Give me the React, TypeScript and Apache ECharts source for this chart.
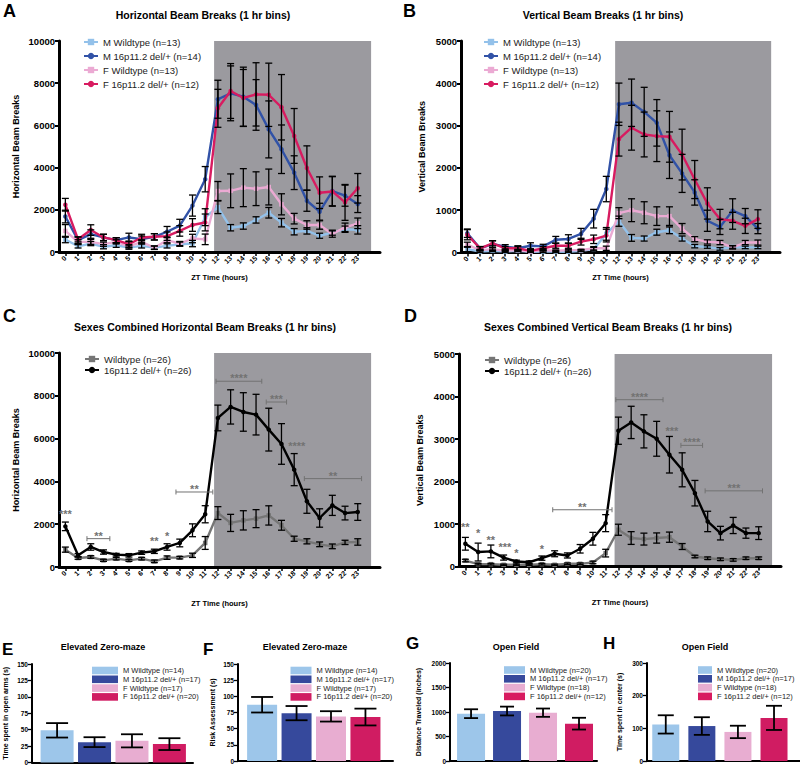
import React, { useEffect, useRef } from "react";
import * as echarts from "echarts";

const FONT = '"Liberation Sans", Arial, Helvetica, sans-serif';

// ---------- data ----------
const hours = [0, 1, 2, 3, 4, 5, 6, 7, 8, 9, 10, 11, 12, 13, 14, 15, 16, 17, 18, 19, 20, 21, 22, 23];
const DARK_START = 11.7;
const DARK_END = 24.05;

const lineNames4 = ["M Wildtype (n=13)", "M 16p11.2 del/+ (n=14)", "F Wildtype (n=13)", "F 16p11.2 del/+ (n=12)"];
const lineNames2 = ["Wildtype (n=26)", "16p11.2 del/+ (n=26)"];

// Panel A: horizontal beam breaks
const A_mWT = [590, 270, 400, 250, 320, 210, 290, 210, 290, 370, 400, 1650, 2120, 1150, 1230, 1520, 1860, 1390, 960, 1000, 770, 915, 1080, 1050];
const A_mWT_err = [150, 80, 100, 100, 100, 80, 100, 80, 100, 100, 150, 400, 300, 150, 150, 150, 250, 200, 150, 150, 120, 120, 150, 200];
const A_mDel = [1680, 560, 850, 690, 560, 690, 610, 720, 960, 1250, 2200, 3450, 7240, 7520, 7360, 6970, 5810, 4870, 3760, 2430, 1910, 2890, 2670, 2270];
const A_mDel_err = [300, 150, 200, 150, 120, 200, 150, 150, 250, 300, 500, 600, 900, 1300, 1400, 1200, 1350, 1150, 800, 500, 400, 700, 500, 400];
const A_fWT = [1000, 480, 480, 370, 480, 270, 480, 200, 560, 400, 640, 600, 2890, 2900, 3050, 3000, 3080, 2260, 1580, 1280, 1280, 850, 1170, 1360];
const A_fWT_err = [300, 100, 120, 100, 100, 80, 100, 80, 120, 100, 200, 250, 450, 800, 900, 800, 850, 500, 250, 200, 200, 150, 200, 250];
const A_fDel = [2240, 600, 1040, 690, 560, 370, 690, 720, 750, 1000, 1280, 1400, 6810, 7630, 7300, 7470, 7450, 6860, 5500, 3980, 2810, 2870, 2350, 3020];
const A_fDel_err = [300, 120, 250, 150, 120, 150, 150, 150, 200, 250, 300, 400, 900, 1300, 1350, 1500, 1500, 1550, 1300, 1050, 750, 700, 850, 700];

// Panel B: vertical beam breaks
const B_mWT = [80, 24, 40, 24, 40, 16, 24, 24, 16, 40, 80, 440, 740, 345, 330, 480, 525, 330, 150, 130, 85, 130, 120, 120];
const B_mWT_err = [60, 20, 20, 20, 20, 15, 20, 20, 15, 20, 40, 150, 120, 80, 60, 70, 80, 60, 40, 30, 30, 30, 30, 30];
const B_mDel = [456, 100, 200, 136, 100, 160, 144, 300, 320, 440, 800, 1500, 3505, 3540, 3325, 3065, 2300, 1870, 1420, 750, 605, 990, 860, 565];
const B_mDel_err = [100, 40, 80, 50, 60, 70, 50, 80, 100, 130, 220, 300, 500, 560, 580, 550, 550, 450, 300, 250, 180, 280, 180, 120];
const B_fWT = [184, 56, 80, 40, 56, 24, 56, 40, 56, 56, 100, 100, 930, 1000, 940, 860, 860, 565, 315, 250, 235, 120, 235, 235];
const B_fWT_err = [60, 20, 30, 20, 20, 15, 20, 20, 20, 20, 40, 50, 130, 270, 260, 220, 220, 120, 60, 50, 50, 40, 50, 60];
const B_fDel = [420, 100, 216, 100, 100, 40, 100, 160, 160, 256, 312, 400, 2680, 2950, 2790, 2750, 2735, 2315, 1725, 1160, 790, 750, 630, 790];
const B_fDel_err = [120, 40, 60, 40, 40, 30, 40, 60, 60, 80, 100, 150, 400, 530, 530, 600, 600, 600, 450, 370, 230, 200, 180, 220];

// Panel C: sexes combined horizontal
const C_wt = [811, 420, 468, 312, 390, 312, 390, 265, 437, 437, 546, 1123, 2520, 2060, 2180, 2260, 2410, 1950, 1320, 1200, 1060, 965, 1150, 1170];
const C_wt_err = [120, 60, 60, 50, 60, 50, 60, 60, 80, 60, 100, 300, 300, 400, 450, 420, 450, 230, 120, 120, 110, 110, 100, 150];
const C_del = [1900, 546, 936, 700, 577, 546, 670, 733, 936, 1123, 1716, 2465, 6965, 7480, 7245, 7120, 6420, 5750, 4550, 3070, 2290, 2880, 2520, 2570];
const C_del_err = [200, 80, 150, 100, 60, 80, 80, 100, 150, 180, 300, 400, 600, 800, 900, 950, 1000, 950, 750, 560, 430, 470, 320, 390];

// Panel D: sexes combined vertical
const D_wt = [140, 55, 55, 40, 40, 40, 55, 40, 63, 63, 95, 315, 865, 670, 645, 670, 690, 470, 235, 195, 170, 155, 195, 195];
const D_wt_err = [30, 20, 20, 15, 15, 15, 20, 15, 20, 20, 30, 90, 130, 150, 140, 120, 120, 70, 30, 30, 30, 30, 30, 30];
const D_del = [535, 340, 355, 210, 118, 100, 197, 300, 260, 417, 653, 1020, 3195, 3390, 3180, 3005, 2630, 2275, 1725, 1060, 785, 965, 785, 785];
const D_del_err = [150, 210, 150, 60, 30, 30, 50, 70, 60, 100, 150, 200, 320, 380, 390, 410, 430, 400, 300, 240, 160, 190, 120, 150];

// significance annotations (x from, x to, y value, label)
const C_sig = [
  { x1: 0, x2: 0, y: 2570, t: "***" },
  { x1: 1.7, x2: 3.5, y: 1325, t: "**" },
  { x1: 7, x2: 7, y: 1325, t: "**" },
  { x1: 8, x2: 8, y: 1560, t: "*" },
  { x1: 8.7, x2: 11.6, y: 3505, t: "**" },
  { x1: 11.85, x2: 15.45, y: 8680, t: "****" },
  { x1: 15.8, x2: 17.4, y: 7710, t: "***" },
  { x1: 18.2, x2: 18.2, y: 5730, t: "****" },
  { x1: 18.8, x2: 23.3, y: 4130, t: "**" },
];
const D_sig = [
  { x1: 0, x2: 0, y: 980, t: "**" },
  { x1: 1, x2: 1, y: 825, t: "*" },
  { x1: 2, x2: 2, y: 667, t: "**" },
  { x1: 3.1, x2: 3.1, y: 510, t: "***" },
  { x1: 4, x2: 4, y: 353, t: "*" },
  { x1: 6, x2: 6, y: 455, t: "*" },
  { x1: 6.85, x2: 11.5, y: 1335, t: "**" },
  { x1: 11.8, x2: 15.5, y: 3925, t: "****" },
  { x1: 16.2, x2: 16.2, y: 3235, t: "***" },
  { x1: 16.9, x2: 18.6, y: 2850, t: "****" },
  { x1: 18.8, x2: 23.3, y: 1780, t: "***" },
];

// Bar panels
const EF_names = ["M Wildtype (n=14)", "M 16p11.2 del/+ (n=17)", "F Wildtype (n=17)", "F 16p11.2 del/+ (n=20)"];
const GH_names = ["M Wildtype (n=20)", "M 16p11.2 del/+ (n=17)", "F Wildtype (n=18)", "F 16p11.2 del/+ (n=12)"];
const E_vals = [49, 31, 33, 28];
const E_err = [11, 7.5, 10, 9];
const F_vals = [87, 74, 69, 68];
const F_err = [12, 11, 8, 13];
const G_vals = [966, 1020, 986, 762];
const G_err = [90, 90, 85, 120];
const H_vals = [112, 107, 89, 132];
const H_err = [28, 27, 19, 37];

// ---------- styles ----------
const LC = ["#93c1ea", "#3152a7", "#ebaad3", "#d81b60"];
const BC = ["#9dc6ea", "#36499c", "#e8add1", "#d01c62"];
const SHADE = "#9b9a9f";
const SIG = "#727272";

const errRender = (cap: number, lw: number) => (params: any, api: any) => {
  const x = api.value(0);
  const y = api.value(1);
  const e = api.value(2);
  const top = api.coord([x, y + e]);
  const bot = api.coord([x, Math.max(0, y - e)]);
  const st = { stroke: "#000", lineWidth: lw };
  return {
    type: "group",
    children: [
      { type: "line", shape: { x1: top[0], y1: top[1], x2: bot[0], y2: bot[1] }, style: st },
      { type: "line", shape: { x1: top[0] - cap, y1: top[1], x2: top[0] + cap, y2: top[1] }, style: st },
      { type: "line", shape: { x1: bot[0] - cap, y1: bot[1], x2: bot[0] + cap, y2: bot[1] }, style: st },
    ],
  };
};

function shadeSeries(gi: number, ymax: number) {
  return {
    type: "custom",
    xAxisIndex: gi,
    yAxisIndex: gi,
    silent: true,
    z: 0,
    data: [[DARK_START, DARK_END, ymax]],
    encode: { x: [0, 1], y: [2] },
    renderItem: (p: any, api: any) => {
      const a = api.coord([api.value(0), api.value(2)]);
      const b = api.coord([api.value(1), 0]);
      return { type: "rect", shape: { x: a[0], y: a[1], width: b[0] - a[0], height: b[1] - a[1] }, style: { fill: SHADE } };
    },
  };
}

function lineSeries(name: string, vals: number[], color: string, symbol: string, gi: number, z: number) {
  return {
    type: "line",
    name,
    xAxisIndex: gi,
    yAxisIndex: gi,
    data: hours.map((h, i) => [h, vals[i]]),
    symbol,
    symbolSize: 4.5,
    showSymbol: true,
    lineStyle: { color, width: 2.4 },
    itemStyle: { color },
    z,
    silent: true,
  };
}

function errSeries(xs: number[], vals: number[], errs: number[], gi: number, cap: number, lw: number) {
  return {
    type: "custom",
    xAxisIndex: gi,
    yAxisIndex: gi,
    silent: true,
    z: 6,
    data: vals.map((v, i) => [xs[i], v, errs[i]]),
    encode: { x: [0], y: [1] },
    renderItem: errRender(cap, lw),
  };
}

function sigSeries(ann: { x1: number; x2: number; y: number; t: string }[], gi: number) {
  return {
    type: "custom",
    xAxisIndex: gi,
    yAxisIndex: gi,
    silent: true,
    z: 7,
    data: ann.map((a) => [a.x1, a.y]),
    encode: { x: [0], y: [1] },
    renderItem: (p: any, api: any) => {
      const a = ann[p.dataIndex];
      const c1 = api.coord([a.x1, a.y]);
      const c2 = api.coord([a.x2, a.y]);
      const children: any[] = [];
      const textStyle = (y: number) => ({
        text: a.t,
        x: (c1[0] + c2[0]) / 2,
        y,
        fill: SIG,
        font: `bold 11px ${FONT}`,
        textAlign: "center",
        align: "center",
        textVerticalAlign: "middle",
        verticalAlign: "middle",
      });
      if (a.x2 > a.x1) {
        const ls = { stroke: SIG, lineWidth: 1 };
        children.push({ type: "line", shape: { x1: c1[0], y1: c1[1], x2: c2[0], y2: c2[1] }, style: ls });
        children.push({ type: "line", shape: { x1: c1[0], y1: c1[1] - 2.5, x2: c1[0], y2: c1[1] + 2.5 }, style: ls });
        children.push({ type: "line", shape: { x1: c2[0], y1: c2[1] - 2.5, x2: c2[0], y2: c2[1] + 2.5 }, style: ls });
        children.push({ type: "text", style: textStyle(c1[1] - 3) });
      } else {
        children.push({ type: "text", style: textStyle(c1[1] + 2) });
      }
      return { type: "group", children };
    },
  };
}

function barSeries(names: string[], vals: number[], gi: number, width: number) {
  return names.map((n, i) => ({
    type: "bar",
    name: n,
    xAxisIndex: gi,
    yAxisIndex: gi,
    data: [[i, vals[i]]],
    barWidth: width,
    barGap: "-100%",
    itemStyle: { color: BC[i] },
    z: 2,
    silent: true,
  }));
}

const boldTxt = (size: number) => ({ color: "#000", fontWeight: "bold" as const, fontSize: size, fontFamily: FONT });

function hourX(gi: number, gap: number) {
  return {
    type: "value",
    gridIndex: gi,
    min: -0.5,
    max: 24.75,
    axisLine: { show: true, onZero: false, lineStyle: { color: "#000", width: 3 } },
    axisTick: { show: true, customValues: hours, length: 4, lineStyle: { color: "#000", width: 1.5 } },
    axisLabel: { show: true, customValues: hours, rotate: 45, margin: 5, formatter: (v: number) => String(v), ...boldTxt(7) },
    splitLine: { show: false },
    name: "ZT Time (hours)",
    nameLocation: "middle",
    nameGap: gap,
    nameTextStyle: boldTxt(7.5),
  };
}

function valY(gi: number, max: number, interval: number, name: string, gap: number, lab: number, nameSize: number, lw: number) {
  return {
    type: "value",
    gridIndex: gi,
    min: 0,
    max,
    interval,
    axisLine: { show: true, onZero: false, lineStyle: { color: "#000", width: lw } },
    axisTick: { show: true, length: 4, lineStyle: { color: "#000", width: lw > 2 ? 2 : 1.3 } },
    axisLabel: { margin: 4, formatter: (v: number) => String(v), ...boldTxt(lab) },
    splitLine: { show: false },
    name,
    nameLocation: "middle",
    nameGap: gap,
    nameTextStyle: boldTxt(nameSize),
  };
}

function barX(gi: number, min: number, max: number) {
  return {
    type: "value",
    gridIndex: gi,
    min,
    max,
    axisLine: { show: true, onZero: false, lineStyle: { color: "#000", width: 2 } },
    axisTick: { show: false },
    axisLabel: { show: false },
    splitLine: { show: false },
  };
}

function lineLegend(names: string[], left: number, top: number, gap: number) {
  return {
    orient: "vertical",
    left,
    top,
    data: names,
    itemWidth: 14,
    itemHeight: 8,
    itemGap: gap,
    padding: 0,
    selectedMode: false,
    textStyle: { color: "#222", fontSize: 9.5, fontFamily: FONT, lineHeight: 10 },
  };
}

function barLegend(names: string[], left: number, top: number, w: number) {
  return {
    orient: "vertical",
    left,
    top,
    data: names,
    icon: "rect",
    itemWidth: w,
    itemHeight: 7.6,
    itemGap: 0.8,
    padding: 0,
    selectedMode: false,
    textStyle: { color: "#222", fontSize: 7.5, fontFamily: FONT, lineHeight: 7.6 },
  };
}

function txt(text: string, x: number, y: number, size: number, align: string) {
  return {
    type: "text",
    x,
    y,
    silent: true,
    style: {
      text,
      fill: "#000",
      font: `bold ${size}px ${FONT}`,
      textAlign: align,
      align,
      textVerticalAlign: "middle",
      verticalAlign: "middle",
    },
  };
}

function buildOption() {
  const grids = [
    { left: 59, top: 41, width: 321, height: 211 },
    { left: 461, top: 41, width: 319, height: 211.5 },
    { left: 59, top: 353, width: 321, height: 214 },
    { left: 459, top: 354, width: 322, height: 212.5 },
    { left: 32, top: 664, width: 161, height: 98.5 },
    { left: 238, top: 664, width: 155, height: 97 },
    { left: 450, top: 663, width: 147, height: 98 },
    { left: 647, top: 663, width: 153, height: 98 },
  ];
  const xAxis = [
    hourX(0, 21),
    hourX(1, 21),
    hourX(2, 32),
    hourX(3, 32),
    barX(4, -0.67, 3.63),
    barX(5, -0.7, 3.8),
    barX(6, -0.585, 3.5),
    barX(7, -0.52, 3.72),
  ];
  const yAxis = [
    valY(0, 10000, 2000, "Horizontal Beam Breaks", 39, 9.5, 9, 3),
    valY(1, 5000, 1000, "Vertical Beam Breaks", 35, 9.5, 9, 3),
    valY(2, 10000, 2000, "Horizontal Beam Breaks", 39, 9.5, 9, 3),
    valY(3, 5000, 1000, "Vertical Beam Breaks", 35, 9.5, 9, 3),
    valY(4, 150, 25, "Time spent in open arms (s)", 23, 6.5, 7, 2),
    valY(5, 150, 25, "Risk Assessment (s)", 22, 6.5, 7, 2),
    valY(6, 2000, 500, "Distance Traveled (inches)", 28, 6.5, 7, 2),
    valY(7, 300, 100, "Time spent in center (s)", 24.5, 6.5, 7, 2),
  ];

  const series: any[] = [
    shadeSeries(0, 10000),
    shadeSeries(1, 5000),
    shadeSeries(2, 10000),
    shadeSeries(3, 5000),
    // A
    lineSeries(lineNames4[0], A_mWT, LC[0], "rect", 0, 2),
    lineSeries(lineNames4[1], A_mDel, LC[1], "circle", 0, 3),
    lineSeries(lineNames4[2], A_fWT, LC[2], "rect", 0, 4),
    lineSeries(lineNames4[3], A_fDel, LC[3], "circle", 0, 5),
    errSeries(hours, A_mWT, A_mWT_err, 0, 3.5, 1.3),
    errSeries(hours, A_mDel, A_mDel_err, 0, 3.5, 1.3),
    errSeries(hours, A_fWT, A_fWT_err, 0, 3.5, 1.3),
    errSeries(hours, A_fDel, A_fDel_err, 0, 3.5, 1.3),
    // B
    lineSeries(lineNames4[0], B_mWT, LC[0], "rect", 1, 2),
    lineSeries(lineNames4[1], B_mDel, LC[1], "circle", 1, 3),
    lineSeries(lineNames4[2], B_fWT, LC[2], "rect", 1, 4),
    lineSeries(lineNames4[3], B_fDel, LC[3], "circle", 1, 5),
    errSeries(hours, B_mWT, B_mWT_err, 1, 3.5, 1.3),
    errSeries(hours, B_mDel, B_mDel_err, 1, 3.5, 1.3),
    errSeries(hours, B_fWT, B_fWT_err, 1, 3.5, 1.3),
    errSeries(hours, B_fDel, B_fDel_err, 1, 3.5, 1.3),
    // C
    lineSeries(lineNames2[0], C_wt, "#767676", "rect", 2, 3),
    lineSeries(lineNames2[1], C_del, "#000000", "circle", 2, 4),
    errSeries(hours, C_wt, C_wt_err, 2, 3.5, 1.3),
    errSeries(hours, C_del, C_del_err, 2, 3.5, 1.3),
    sigSeries(C_sig, 2),
    // D
    lineSeries(lineNames2[0], D_wt, "#767676", "rect", 3, 3),
    lineSeries(lineNames2[1], D_del, "#000000", "circle", 3, 4),
    errSeries(hours, D_wt, D_wt_err, 3, 3.5, 1.3),
    errSeries(hours, D_del, D_del_err, 3, 3.5, 1.3),
    sigSeries(D_sig, 3),
    // bars
    ...barSeries(EF_names, E_vals, 4, 33),
    errSeries([0, 1, 2, 3], E_vals, E_err, 4, 11, 1.8),
    ...barSeries(EF_names, F_vals, 5, 30),
    errSeries([0, 1, 2, 3], F_vals, F_err, 5, 11, 1.8),
    ...barSeries(GH_names, G_vals, 6, 28),
    errSeries([0, 1, 2, 3], G_vals, G_err, 6, 7, 1.8),
    ...barSeries(GH_names, H_vals, 7, 27),
    errSeries([0, 1, 2, 3], H_vals, H_err, 7, 8, 1.8),
  ];

  const legend = [
    lineLegend(lineNames4, 83, 37, 4),
    lineLegend(lineNames4, 483, 37, 4),
    lineLegend(lineNames2, 84, 354, 1),
    lineLegend(lineNames2, 484, 355, 1),
    barLegend(EF_names, 92, 666.5, 26),
    barLegend(EF_names, 290.5, 666.5, 21),
    barLegend(GH_names, 504, 666, 21),
    barLegend(GH_names, 698, 666, 14),
  ];

  const graphic = [
    txt("A", 3, 11, 18, "left"),
    txt("Horizontal Beam Breaks (1 hr bins)", 203, 15, 10.5, "center"),
    txt("B", 403, 11, 18, "left"),
    txt("Vertical Beam Breaks (1 hr bins)", 603, 15, 10.5, "center"),
    txt("C", 3, 316, 18, "left"),
    txt("Sexes Combined Horizontal Beam Breaks (1 hr bins)", 205, 327, 10.5, "center"),
    txt("D", 404, 316, 18, "left"),
    txt("Sexes Combined Vertical Beam Breaks (1 hr bins)", 608, 327, 10.5, "center"),
    txt("E", 2, 649, 17, "left"),
    txt("Elevated Zero-maze", 103, 647, 9, "center"),
    txt("F", 203, 649, 17, "left"),
    txt("Elevated Zero-maze", 305, 647, 9, "center"),
    txt("G", 406, 643, 17, "left"),
    txt("Open Field", 516, 647, 9, "center"),
    txt("H", 603, 643, 17, "left"),
    txt("Open Field", 705, 647, 9, "center"),
  ];

  return {
    animation: false,
    backgroundColor: "#ffffff",
    textStyle: { fontFamily: FONT },
    grid: grids,
    xAxis,
    yAxis,
    legend,
    series,
    graphic,
  };
}

export default function App() {
  const ref = useRef<HTMLDivElement>(null);
  useEffect(() => {
    const chart = echarts.init(ref.current as HTMLDivElement, null, { renderer: "svg" });
    chart.setOption(buildOption() as any);
    return () => chart.dispose();
  }, []);
  return (
    <div
      ref={ref}
      style={{ position: "absolute", left: 0, top: 0, width: 800, height: 768, background: "#fff" }}
    />
  );
}
